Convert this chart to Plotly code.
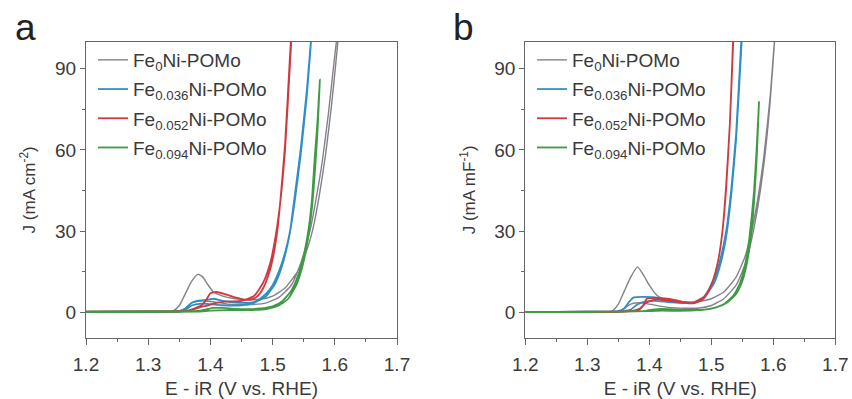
import plotly.graph_objects as go

# ---- cyclic voltammetry loops (forward sweep then return sweep) ----
# panel a: current density normalised by geometric area
E_a_fe0 = [1.20, 1.30, 1.340, 1.350, 1.360, 1.370, 1.380, 1.388, 1.395, 1.405, 1.420, 1.440, 1.460, 1.480,
           1.500, 1.520, 1.540, 1.555, 1.565, 1.575, 1.585, 1.595, 1.605, 1.612,
           1.600, 1.590, 1.580, 1.570, 1.560, 1.545, 1.530, 1.510, 1.490, 1.460, 1.430, 1.400, 1.385,
           1.370, 1.360, 1.350, 1.340, 1.300, 1.200]
J_a_fe0 = [0.2, 0.3, 0.5, 2.5, 7.0, 11.5, 14.0, 13.0, 10.5, 7.5, 6.0, 5.0, 4.6, 4.8,
           6.0, 9.0, 15.0, 23.0, 31.0, 43.0, 58.0, 77.0, 100.0, 118.0,
           95.0, 74.0, 56.0, 42.0, 30.0, 18.0, 10.0, 5.5, 3.5, 2.8, 3.0, 4.0, 4.2,
           3.5, 1.5, 0.4, 0.2, 0.1, 0.1]

E_a_fe036 = [1.20, 1.30, 1.350, 1.360, 1.370, 1.380, 1.395, 1.405, 1.420, 1.440, 1.460, 1.475, 1.490,
             1.500, 1.510, 1.520, 1.528, 1.535, 1.545, 1.555, 1.565,
             1.555, 1.545, 1.535, 1.525, 1.515, 1.505, 1.490, 1.470, 1.450, 1.420, 1.400, 1.385,
             1.370, 1.360, 1.350, 1.300, 1.200]
J_a_fe036 = [0.2, 0.3, 0.5, 1.5, 3.5, 4.3, 4.6, 5.0, 4.2, 3.6, 3.5, 4.2, 7.0,
             10.0, 15.0, 22.0, 30.0, 42.0, 60.0, 82.0, 110.0,
             80.0, 58.0, 40.0, 26.0, 17.0, 11.0, 6.0, 3.5, 2.6, 2.6, 3.0, 3.2,
             2.5, 1.0, 0.3, 0.1, 0.1]

E_a_fe052 = [1.20, 1.30, 1.360, 1.375, 1.385, 1.393, 1.400, 1.410, 1.425, 1.440, 1.455, 1.465, 1.475,
             1.485, 1.493, 1.500, 1.507, 1.512, 1.520, 1.528, 1.536,
             1.528, 1.520, 1.512, 1.504, 1.496, 1.485, 1.470, 1.450, 1.430, 1.410, 1.395, 1.385,
             1.375, 1.365, 1.350, 1.300, 1.200]
J_a_fe052 = [0.2, 0.3, 0.5, 1.5, 2.5, 4.5, 7.0, 7.5, 6.6, 5.5, 4.7, 4.7, 5.8,
             9.0, 13.5, 19.5, 29.0, 40.0, 62.0, 95.0, 125.0,
             92.0, 60.0, 40.0, 27.0, 18.0, 11.0, 6.0, 4.2, 4.0, 3.5, 2.5, 2.0,
             1.2, 0.5, 0.3, 0.1, 0.1]

E_a_fe094 = [1.20, 1.30, 1.380, 1.395, 1.405, 1.420, 1.440, 1.460, 1.480, 1.500, 1.515, 1.530, 1.540,
             1.550, 1.558, 1.563, 1.568, 1.572, 1.576,
             1.572, 1.568, 1.563, 1.556, 1.548, 1.538, 1.525, 1.510, 1.490, 1.460, 1.430, 1.400,
             1.380, 1.300, 1.200]
J_a_fe094 = [0.2, 0.3, 0.5, 1.2, 1.6, 1.6, 1.3, 1.2, 1.4, 2.2, 4.0, 8.0, 13.0,
             21.0, 31.0, 41.0, 58.0, 70.0, 86.0,
             66.0, 52.0, 38.0, 26.0, 17.0, 10.0, 5.0, 2.5, 1.2, 0.8, 0.8, 0.6,
             0.3, 0.1, 0.1]

# panel b: current normalised by double-layer capacitance
E_b_fe0 = [1.20, 1.30, 1.340, 1.350, 1.360, 1.370, 1.381, 1.390, 1.400, 1.410, 1.420, 1.440, 1.460, 1.480,
           1.500, 1.520, 1.540, 1.555, 1.565, 1.575, 1.585, 1.595, 1.605,
           1.595, 1.585, 1.575, 1.565, 1.555, 1.540, 1.520, 1.500, 1.480, 1.460, 1.430, 1.400, 1.385,
           1.370, 1.360, 1.350, 1.300, 1.200]
J_b_fe0 = [0.1, 0.2, 0.4, 3.0, 8.0, 13.0, 16.8, 14.0, 10.0, 6.8, 5.2, 4.2, 3.8, 4.0,
           5.0, 7.5, 13.0, 21.0, 30.0, 42.0, 58.0, 80.0, 110.0,
           78.0, 55.0, 39.0, 27.0, 18.0, 10.0, 5.0, 2.5, 1.6, 1.5, 1.8, 3.0, 3.5,
           3.0, 1.5, 0.3, 0.1, 0.1]

E_b_fe036 = [1.20, 1.30, 1.350, 1.360, 1.368, 1.375, 1.390, 1.405, 1.415, 1.430, 1.450, 1.470, 1.485,
             1.495, 1.505, 1.515, 1.524, 1.532, 1.540, 1.548, 1.556,
             1.548, 1.540, 1.532, 1.524, 1.515, 1.505, 1.490, 1.470, 1.450, 1.430, 1.410, 1.395,
             1.380, 1.370, 1.360, 1.350, 1.300, 1.200]
J_b_fe036 = [0.1, 0.2, 0.4, 1.5, 4.0, 5.5, 5.7, 5.6, 5.3, 4.6, 3.8, 3.5, 5.0,
             8.0, 12.5, 20.0, 30.0, 45.0, 66.0, 99.0, 130.0,
             96.0, 64.0, 43.0, 28.0, 18.0, 11.0, 6.0, 3.6, 3.5, 3.8, 4.2, 4.0,
             2.8, 1.0, 0.4, 0.3, 0.1, 0.1]

E_b_fe052 = [1.20, 1.30, 1.370, 1.384, 1.390, 1.396, 1.410, 1.425, 1.440, 1.455, 1.470, 1.485, 1.495,
             1.503, 1.511, 1.518, 1.524, 1.530, 1.535, 1.542,
             1.535, 1.530, 1.524, 1.518, 1.511, 1.503, 1.490, 1.470, 1.450, 1.430, 1.410, 1.395,
             1.385, 1.375, 1.360, 1.300, 1.200]
J_b_fe052 = [0.1, 0.2, 0.4, 1.0, 2.5, 5.0, 5.3, 5.1, 4.6, 3.8, 3.3, 4.5, 7.5,
             12.0, 19.0, 30.0, 46.0, 70.0, 100.0, 140.0,
             98.0, 70.0, 47.0, 30.0, 19.0, 12.0, 6.0, 3.4, 3.6, 4.3, 4.8, 3.5,
             1.4, 0.6, 0.3, 0.1, 0.1]

E_b_fe094 = [1.20, 1.30, 1.390, 1.405, 1.420, 1.440, 1.460, 1.480, 1.495, 1.508, 1.525, 1.540, 1.550,
             1.556, 1.561, 1.565, 1.569, 1.573, 1.577,
             1.573, 1.569, 1.565, 1.560, 1.553, 1.545, 1.535, 1.520, 1.500, 1.480, 1.450, 1.420,
             1.400, 1.300, 1.200]
J_b_fe094 = [0.1, 0.2, 0.4, 1.0, 1.3, 1.1, 0.9, 0.9, 1.2, 1.8, 3.5, 6.8, 11.5,
             16.5, 23.0, 30.0, 41.0, 56.0, 78.0,
             60.0, 45.0, 35.0, 25.0, 16.0, 10.0, 6.0, 3.0, 1.4, 0.8, 0.5, 0.6,
             0.4, 0.1, 0.1]

series_names = ["Fe<sub>0</sub>Ni-POMo", "Fe<sub>0.036</sub>Ni-POMo",
                "Fe<sub>0.052</sub>Ni-POMo", "Fe<sub>0.094</sub>Ni-POMo"]
series_colors = ["#85808a", "#2f8fc4", "#cf3a42", "#3f9a45"]
series_widths = [1.4, 1.8, 1.8, 1.8]

x_ticks = [1.2, 1.3, 1.4, 1.5, 1.6, 1.7]
y_ticks = [0, 30, 60, 90]
y_titles = ["J (mA cm<sup>-2</sup>)", "J (mA mF<sup>-1</sup>)"]
x_title = "E - iR (V vs. RHE)"
panel_tags = ["a", "b"]

panel_a = [(E_a_fe0, J_a_fe0), (E_a_fe036, J_a_fe036), (E_a_fe052, J_a_fe052), (E_a_fe094, J_a_fe094)]
panel_b = [(E_b_fe0, J_b_fe0), (E_b_fe036, J_b_fe036), (E_b_fe052, J_b_fe052), (E_b_fe094, J_b_fe094)]

FONT = "Liberation Sans, Arial, sans-serif"
TXT = "#3a3a3a"
W, H = 852, 399

fig = go.Figure()
for p, (panel, xa, ya, lg) in enumerate([(panel_a, "x", "y", "legend"), (panel_b, "x2", "y2", "legend2")]):
    for i, (E, J) in enumerate(panel):
        fig.add_trace(go.Scatter(
            x=E, y=J, mode="lines", name=series_names[i],
            line=dict(color=series_colors[i], width=series_widths[i], shape="spline", smoothing=0.5),
            xaxis=xa, yaxis=ya, legend=lg, legendgroup=f"{lg}{i}",
        ))

x_domains = [[86 / W, 397 / W], [525.3 / W, 835.3 / W]]
y_domain = [1 - 338 / H, 1 - 41.7 / H]

def xaxis_cfg(dom, anchor):
    return dict(domain=dom, anchor=anchor, range=[1.2, 1.7], tickvals=x_ticks,
                ticktext=[f"{v:.1f}" for v in x_ticks],
                showline=True, linecolor="#666", linewidth=1.3, mirror=True,
                ticks="outside", ticklen=6, tickwidth=1.2, tickcolor="#666",
                minor=dict(ticks="outside", ticklen=3, tickwidth=1.1, tickcolor="#666", dtick=0.05),
                showgrid=False, zeroline=False, automargin=False, ticklabelstandoff=3,
                tickfont=dict(family=FONT, size=19, color=TXT),
                title=dict(text=x_title, font=dict(family=FONT, size=19, color=TXT), standoff=12))

def yaxis_cfg(anchor, title):
    return dict(domain=y_domain, anchor=anchor, range=[-9.5, 100], tickvals=y_ticks,
                showline=True, linecolor="#666", linewidth=1.3, mirror=True,
                ticks="outside", ticklen=5, tickwidth=1.2, tickcolor="#666",
                minor=dict(ticks="outside", ticklen=3, tickwidth=1.1, tickcolor="#666", dtick=15),
                showgrid=False, zeroline=False, automargin=False,
                tickfont=dict(family=FONT, size=19, color=TXT),
                title=dict(text=title, font=dict(family=FONT, size=17, color=TXT), standoff=14))

legend_cfg = dict(font=dict(family=FONT, size=19, color=TXT), bgcolor="rgba(0,0,0,0)",
                  yanchor="top", xanchor="left", tracegroupgap=1.5, itemwidth=30)

fig.update_layout(
    width=W, height=H, margin=dict(l=0, r=0, t=0, b=0),
    paper_bgcolor="white", plot_bgcolor="white",
    xaxis=xaxis_cfg(x_domains[0], "y"), yaxis=yaxis_cfg("x", y_titles[0]),
    xaxis2=xaxis_cfg(x_domains[1], "y2"), yaxis2=yaxis_cfg("x2", y_titles[1]),
    legend=dict(x=93 / W, y=1 - 41 / H, **legend_cfg),
    legend2=dict(x=532 / W, y=1 - 41 / H, **legend_cfg),
    annotations=[
        dict(text=panel_tags[0], x=25 / W, y=1 - 27 / H, xref="paper", yref="paper",
             xanchor="center", yanchor="middle",
             showarrow=False, font=dict(family=FONT, size=37, color="#222")),
        dict(text=panel_tags[1], x=463 / W, y=1 - 27 / H, xref="paper", yref="paper",
             xanchor="center", yanchor="middle",
             showarrow=False, font=dict(family=FONT, size=37, color="#222")),
    ],
)

fig.write_html("out.html")
